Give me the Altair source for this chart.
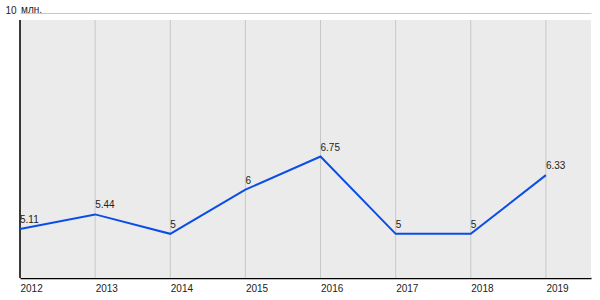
import altair as alt
import pandas as pd

years = [2012, 2013, 2014, 2015, 2016, 2017, 2018, 2019]
values = [5.11, 5.44, 5, 6, 6.75, 5, 5, 6.33]
labels = ["5.11", "5.44", "5", "6", "6.75", "5", "5", "6.33"]
unit = "млн."

df = pd.DataFrame({"year": years, "value": values, "label": labels})

W, H = 571, 265
FONT = "Liberation Sans"
FS = 10

xs = alt.Scale(domain=[2012, 2019.6], nice=False, zero=False)
ys = alt.Scale(domain=[4, 10], nice=False, zero=False)

bg = alt.Chart(pd.DataFrame({"a": [0]})).mark_rect(color="#ebebeb").encode(
    x=alt.value(0), x2=alt.value(W), y=alt.value(7), y2=alt.value(H)
)

grid = alt.Chart(df).mark_rule(color="#c8c8c8", strokeWidth=1).encode(
    x=alt.X("year:Q", scale=xs,
            axis=alt.Axis(values=years, format="d", title=None, grid=False, ticks=False,
                          labelAlign="left", labelPadding=5, labelFontSize=FS,
                          labelFont=FONT, labelColor="#222", domainColor="#000",
                          domainWidth=1.5, labelFlush=False, labelOverlap=False)),
    y=alt.value(7), y2=alt.value(H)
)

leftline = alt.Chart(pd.DataFrame({"a": [0]})).mark_rule(color="#000", strokeWidth=1.5).encode(
    x=alt.value(0), y=alt.value(7), y2=alt.value(H)
)

line = alt.Chart(df).mark_line(color="#0a4de6", strokeWidth=2).encode(
    x=alt.X("year:Q", scale=xs),
    y=alt.Y("value:Q", scale=ys,
            axis=alt.Axis(values=[10], title=None, grid=True, gridColor="#c8c8c8",
                          ticks=False, domain=False, labelBaseline="alphabetic",
                          labelPadding=4, labelFontSize=FS, labelFont=FONT,
                          labelColor="#222"))
)

text = alt.Chart(df).mark_text(align="left", baseline="alphabetic", dx=0, dy=-6,
                               fontSize=FS, font=FONT, color="#222").encode(
    x=alt.X("year:Q", scale=xs),
    y=alt.Y("value:Q", scale=ys),
    text="label:N"
)

unit_txt = alt.Chart(pd.DataFrame({"t": [unit]})).mark_text(
    align="left", baseline="alphabetic", fontSize=FS, font=FONT, color="#222", dx=1
).encode(x=alt.value(0), y=alt.value(0), text="t:N")

chart = alt.layer(bg, grid, leftline, line, text, unit_txt).properties(
    width=W, height=H,
    autosize=alt.AutoSizeParams(type="none"),
    padding={"left": 20, "top": 13, "right": 9, "bottom": 22},
    background="white"
).configure_view(stroke=None)

chart.save("out.html", embed_options={"renderer": "svg", "actions": False})
